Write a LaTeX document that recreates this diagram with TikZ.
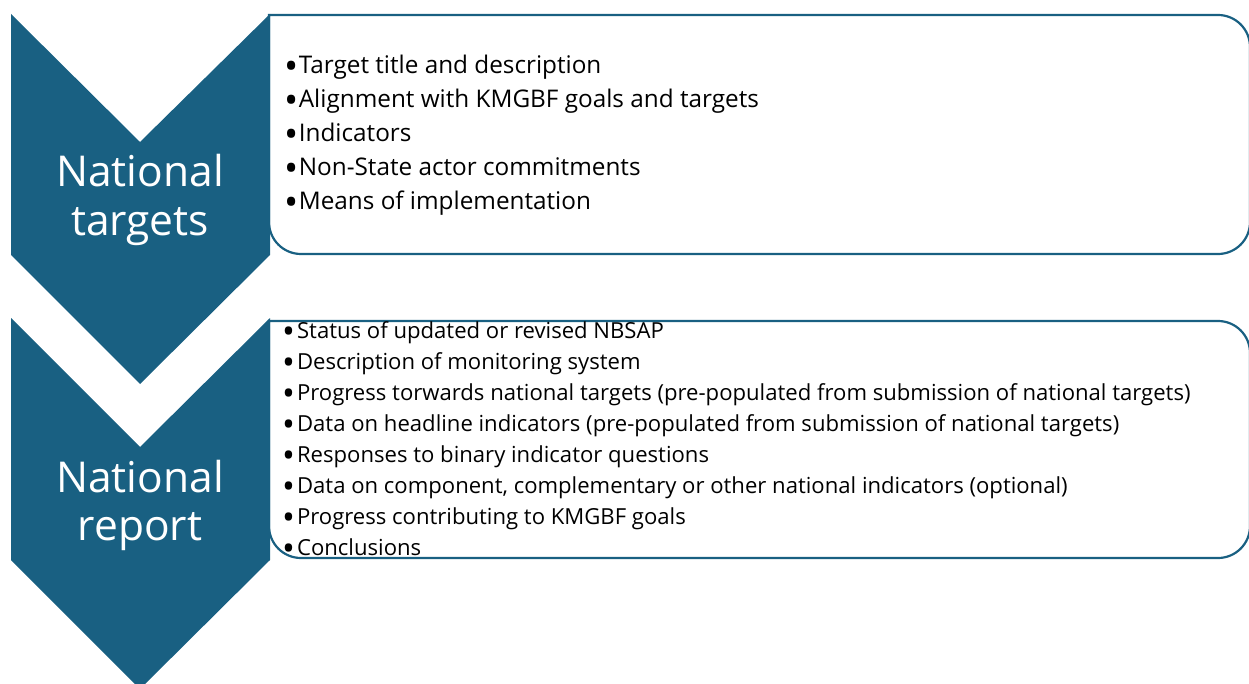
\documentclass[tikz,border=0pt]{standalone}
\usepackage{fontspec}
\usepackage{graphicx}
\setmainfont{Open Sans}
\definecolor{chev}{RGB}{25,96,130}
\newcommand\bulA{\raisebox{-0.24em}{\scalebox{1.55}{•}}\hspace{0.5pt}}
\newcommand\bulB{\raisebox{-0.24em}{\scalebox{1.55}{•}}\hspace{2pt}}
\begin{document}
\begin{tikzpicture}[x=1pt,y=-1pt,
  chevron/.style={fill=chev,draw=none},
  panel/.style={draw=chev,line width=2.2pt,fill=white,rounded corners=32pt},
  itemA/.style={anchor=base west,inner sep=0pt,font=\fontsize{24.3}{26}\selectfont},
  itemB/.style={anchor=base west,inner sep=0pt,font=\fontsize{22.1}{24}\selectfont},
  title/.style={anchor=base,inner sep=0pt,text=white,font=\fontsize{42.5}{48}\selectfont}]
\useasboundingbox (0,0) rectangle (1249,684);
% panels
\draw[panel] (269,15) -- (1250,15) -- (1250,254) -- (269,254) [sharp corners] -- cycle;
\draw[panel] (269,321) -- (1250,321) -- (1250,558) -- (269,558) [sharp corners] -- cycle;
% chevrons
\fill[chevron] (11,14) -- (140,142) -- (270,14) -- (270,255) -- (140,384) -- (11,255) -- cycle;
\fill[chevron] (11,318) -- (140,447) -- (270,318) -- (270,560) -- (140,689) -- (11,560) -- cycle;
% titles
\node[title] (t1a) at (140,187) {National};
\node[title] (t1b) at (140,236) {targets};
\node[title] (t2a) at (140,492) {National};
\node[title] (t2b) at (140,540) {report};
% panel 1 items
\node[itemA] (a1) at (284,74) {\bulA Target title and description};
\node[itemA] (a2) at (284,108) {\bulA Alignment with KMGBF goals and targets};
\node[itemA] (a3) at (284,142) {\bulA Indicators};
\node[itemA] (a4) at (284,176) {\bulA Non-State actor commitments};
\node[itemA] (a5) at (284,210) {\bulA Means of implementation};
% panel 2 items
\node[itemB] (b1) at (282,338) {\bulB Status of updated or revised NBSAP};
\node[itemB] (b2) at (282,369) {\bulB Description of monitoring system};
\node[itemB] (b3) at (282,400) {\bulB Progress torwards national targets (pre-populated from submission of national targets)};
\node[itemB] (b4) at (282,431) {\bulB Data on headline indicators (pre-populated from submission of national targets)};
\node[itemB] (b5) at (282,462) {\bulB Responses to binary indicator questions};
\node[itemB] (b6) at (282,493) {\bulB Data on component, complementary or other national indicators (optional)};
\node[itemB] (b7) at (282,524) {\bulB Progress contributing to KMGBF goals};
\node[itemB] (b8) at (282,555) {\bulB Conclusions};
\end{tikzpicture}
\end{document}
